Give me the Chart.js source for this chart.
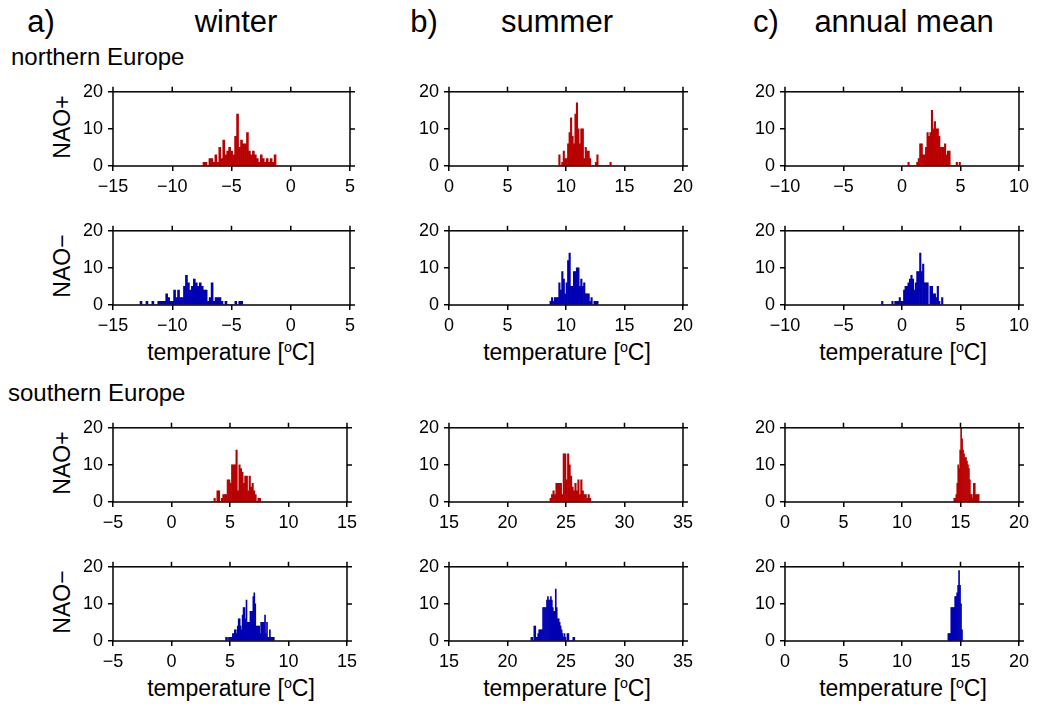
<!DOCTYPE html>
<html>
<head>
<meta charset="utf-8">
<script src="https://cdn.jsdelivr.net/npm/chart.js@4"></script>
<style>
  body { margin: 0; background: #fff; width: 1038px; height: 704px; position: relative; overflow: hidden;
         font-family: "Liberation Sans", Arial, sans-serif; color: #000; }
  .lbl { position: absolute; white-space: nowrap; line-height: 1; }
  .rot { transform: translate(-50%, -50%) rotate(-90deg); }
  .ctr { transform: translate(-50%, -50%); }
  canvas { position: absolute; }
  sup { font-size: 0.62em; vertical-align: 0.55em; line-height: 0; }
</style>
</head>
<body>
<div class="lbl ctr" style="left:41px;top:21px;font-size:31px">a)</div>
<div class="lbl ctr" style="left:236px;top:21px;font-size:31px">winter</div>
<div class="lbl ctr" style="left:424px;top:21px;font-size:31px">b)</div>
<div class="lbl ctr" style="left:557px;top:21px;font-size:31px">summer</div>
<div class="lbl ctr" style="left:766px;top:21px;font-size:31px">c)</div>
<div class="lbl ctr" style="left:904px;top:21px;font-size:31px">annual mean</div>
<div class="lbl" style="left:11px;top:45px;font-size:24px">northern Europe</div>
<div class="lbl" style="left:8px;top:381px;font-size:24px">southern Europe</div>
<div class="lbl rot" style="left:62px;top:127px;font-size:23px">NAO+</div>
<div class="lbl rot" style="left:62px;top:266px;font-size:23px">NAO−</div>
<div class="lbl rot" style="left:62px;top:463px;font-size:23px">NAO+</div>
<div class="lbl rot" style="left:62px;top:602px;font-size:23px">NAO−</div>
<div class="lbl ctr" style="left:231px;top:352px;font-size:23px">temperature [<sup>o</sup>C]</div>
<div class="lbl ctr" style="left:567px;top:352px;font-size:23px">temperature [<sup>o</sup>C]</div>
<div class="lbl ctr" style="left:903px;top:352px;font-size:23px">temperature [<sup>o</sup>C]</div>
<div class="lbl ctr" style="left:231px;top:688px;font-size:23px">temperature [<sup>o</sup>C]</div>
<div class="lbl ctr" style="left:567px;top:688px;font-size:23px">temperature [<sup>o</sup>C]</div>
<div class="lbl ctr" style="left:903px;top:688px;font-size:23px">temperature [<sup>o</sup>C]</div>

<script>
// Histogram counts per panel (number of members per temperature bin)
const winterNorthPos = [1,1,0,2,2,1,3,1,5,2,7,3,4,5,4,3,8,14,5,7,6,6,9,4,3,4,3,2,1,3,2,1,2,1,2,1,3];
const summerNorthPos = [3,0,1,4,2,2,6,9,13,8,6,14,17,10,6,10,10,2,5,4,4,2,0,0,0,1,3,0,0,0,0,0,0,0,0,1];
const annualNorthPos = [1,0,0,0,0,0,1,2,6,6,3,3,5,9,8,9,15,10,12,10,10,8,5,5,5,6,3,4,4,0,0,0,0,1,0,1];
const winterNorthNeg = [1,0,0,1,0,0,1,0,0,1,1,1,1,3,2,1,1,4,2,4,2,2,5,8,6,4,5,7,6,5,6,5,4,4,1,2,6,1,2,2,2,1,0,1,0,0,0,0,1,0,1,1];
const summerNorthNeg = [1,2,1,2,2,2,6,4,9,7,3,6,12,14,5,5,9,9,10,10,5,7,5,6,3,3,3,1,2,0,1,1,1];
const annualNorthNeg = [1,0,0,0,0,0,0,1,0,1,1,1,2,1,1,4,5,5,6,7,8,7,4,6,9,9,14,9,11,6,6,6,0,5,5,3,3,2,5,1,0,2];
const winterSouthPos = [1,0,3,3,0,1,2,2,2,6,6,5,10,10,10,14,3,10,9,8,5,7,7,3,7,4,5,3,2,0,1,1];
const summerSouthPos = [1,2,3,2,5,5,5,5,2,13,13,6,13,10,7,4,3,5,3,6,2,6,3,2,2,1,2,1];
const annualSouthPos = [1,1,2,5,10,9,14,20,17,14,13,12,12,11,10,9,6,2,2,1,5,5,2,2,2,2];
const winterSouthNeg = [1,1,0,1,1,1,1,2,2,3,3,2,4,6,6,4,3,7,9,9,6,11,5,5,5,8,8,8,12,13,10,4,4,4,4,2,5,5,5,5,7,2,5,1,1,3,1,1,1,1];
const summerSouthNeg = [1,1,0,4,4,1,1,2,3,3,3,3,9,9,9,9,11,12,11,11,12,11,9,8,8,14,9,6,6,5,4,3,2,1,2,1,0,2,2,0,0,0,0,1,1];
const annualSouthNeg = [2,2,2,9,9,9,9,12,12,13,15,19,15,10,3];

// Left edge of the first bin and bin width (degC), same order as panels below
const binStarts = [-7.405, 9.375, 0.5, -12.72, 8.625, -1.75, 3.625, 23.625, 14.43, 4.62, 22.0, 13.92];
const binWidths = [1/6, 0.125, 0.125, 1/6, 0.125, 0.125, 0.125, 0.125, 1/12, 1/12, 1/12, 1/12];

// x-axis ranges: northern Europe rows, southern Europe rows
const northRanges = [[-15, 5], [0, 20], [-10, 10]];
const southRanges = [[-5, 15], [15, 35], [0, 20]];
const yTicks = [0, 10, 20];

const panels = [
    winterNorthPos, summerNorthPos, annualNorthPos,
    winterNorthNeg, summerNorthNeg, annualNorthNeg,
    winterSouthPos, summerSouthPos, annualSouthPos,
    winterSouthNeg, summerSouthNeg, annualSouthNeg
];

const RED = "#b80000";
const BLUE = "#0000b4";
const FONT = "'Liberation Sans', Arial, sans-serif";

// frame geometry (plot area of each panel)
const colLeft = [113, 449, 785];
const rowTop = [88, 227, 424, 563];
const plotW = 237, plotH = 78;
const padL = 60, padT = 12, padR = 12, padB = 34;

// Box around the plot plus outward ticks on top and right
const framePlugin = {
    id: "frame",
    afterDraw(chart) {
        const { ctx, chartArea: a, scales } = chart;
        ctx.save();
        ctx.strokeStyle = "#000";
        ctx.lineWidth = 1.5;
        ctx.strokeRect(a.left, a.top, a.right - a.left, a.bottom - a.top);
        ctx.beginPath();
        scales.x.ticks.forEach(t => {
            const px = scales.x.getPixelForValue(t.value);
            ctx.moveTo(px, a.top);
            ctx.lineTo(px, a.top - 5);
        });
        scales.y.ticks.forEach(t => {
            const py = scales.y.getPixelForValue(t.value);
            ctx.moveTo(a.right, py);
            ctx.lineTo(a.right + 5, py);
        });
        ctx.stroke();
        ctx.restore();
    }
};

function fmt(v) {
    return String(v).replace("-", "\u2212");
}

function makePanel(idx) {
    const row = Math.floor(idx / 3);
    const col = idx % 3;
    const range = row < 2 ? northRanges[col] : southRanges[col];
    const counts = panels[idx];
    const start = binStarts[idx];
    const w = binWidths[idx];
    const color = row % 2 === 0 ? RED : BLUE;

    const canvas = document.createElement("canvas");
    canvas.width = padL + plotW + padR;
    canvas.height = padT + plotH + padB;
    canvas.style.left = (colLeft[col] - padL) + "px";
    canvas.style.top = (rowTop[row] - padT) + "px";
    document.body.appendChild(canvas);

    new Chart(canvas.getContext("2d"), {
        type: "bar",
        data: {
            datasets: [{
                data: counts.map((c, i) => ({ x: start + (i + 0.5) * w, y: c })),
                backgroundColor: color,
                borderWidth: 0,
                barPercentage: 1,
                categoryPercentage: 1
            }]
        },
        options: {
            responsive: false,
            animation: false,
            layout: { padding: { left: 0, top: padT, right: padR, bottom: 0 } },
            plugins: { legend: { display: false }, tooltip: { enabled: false } },
            scales: {
                x: {
                    type: "linear",
                    min: range[0],
                    max: range[1],
                    offset: false,
                    ticks: {
                        stepSize: 5, autoSkip: false, maxRotation: 0, padding: 5,
                        color: "#000", font: { family: FONT, size: 18 },
                        callback: v => fmt(v)
                    },
                    grid: { drawOnChartArea: false, tickLength: 5, color: "#000", lineWidth: 1.5, offset: false },
                    border: { display: false },
                    afterFit: s => { s.height = padB; }
                },
                y: {
                    min: yTicks[0],
                    max: yTicks[yTicks.length - 1],
                    afterBuildTicks: s => { s.ticks = yTicks.map(v => ({ value: v })); },
                    ticks: { padding: 5, color: "#000", font: { family: FONT, size: 18 } },
                    grid: { drawOnChartArea: false, tickLength: 5, color: "#000", lineWidth: 1.5 },
                    border: { display: false },
                    afterFit: s => { s.width = padL; }
                }
            }
        },
        plugins: [framePlugin]
    });
}

for (let i = 0; i < panels.length; i++) makePanel(i);
</script>
</body>
</html>
